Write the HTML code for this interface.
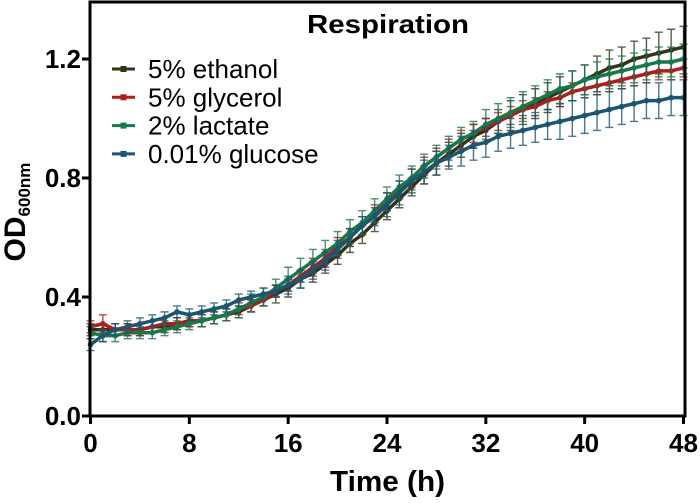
<!DOCTYPE html>
<html><head><meta charset="utf-8"><style>
body{margin:0;background:#fff;}
svg text{font-family:"Liberation Sans",Arial,sans-serif;}
</style></head><body>
<svg id="chart" width="700" height="498">
<g id="grid"></g>
<g id="series"></g>
<rect x="90" y="2" width="595" height="414" fill="none" stroke="#000" stroke-width="3"/>
<text x="307" y="33" font-size="26" font-weight="bold" textLength="162" lengthAdjust="spacingAndGlyphs">Respiration</text>
<g id="legend"></g>
<text x="330" y="491" font-size="29" font-weight="bold" textLength="115" lengthAdjust="spacingAndGlyphs">Time (h)</text>
<text transform="translate(25,212) rotate(-90)" font-size="30" font-weight="bold" text-anchor="middle">OD<tspan font-size="17" dy="5">600nm</tspan></text>
</svg>
<script>
const hours = [0,1,2,3,4,5,6,7,8,9,10,11,12,13,14,15,16,17,18,19,20,21,22,23,24,25,26,27,28,29,30,31,32,33,34,35,36,37,38,39,40,41,42,43,44,45,46,47,48];
const xTicks = [0,8,16,24,32,40,48];
const yTicks = [0.0,0.4,0.8,1.2];
const yTickLabels = ["0.0","0.4","0.8","1.2"];
const seriesNames = ["5% ethanol","5% glycerol","2% lactate","0.01% glucose"];
const seriesColors = ["#33331a","#b01c1c","#17784a","#1b5570"];
const ethanol = [.29,.29,.29,.29,.29,.30,.30,.31,.32,.32,.33,.34,.35,.37,.39,.41,.43,.46,.48,.51,.54,.58,.61,.65,.69,.73,.77,.81,.85,.88,.91,.94,.96,.99,1.01,1.03,1.05,1.07,1.09,1.11,1.13,1.15,1.17,1.18,1.20,1.21,1.22,1.23,1.24];
const glycerol = [.30,.31,.29,.29,.29,.30,.31,.31,.32,.32,.33,.34,.36,.37,.39,.42,.44,.47,.50,.53,.57,.60,.64,.68,.72,.76,.80,.84,.87,.90,.93,.95,.97,.99,1.01,1.03,1.04,1.06,1.07,1.09,1.10,1.11,1.12,1.13,1.14,1.15,1.16,1.16,1.17];
const lactate = [.28,.27,.27,.28,.28,.28,.29,.30,.31,.32,.33,.34,.36,.38,.40,.43,.46,.49,.52,.55,.58,.62,.65,.69,.73,.77,.80,.84,.87,.90,.93,.95,.98,1.00,1.02,1.04,1.06,1.08,1.10,1.11,1.13,1.14,1.15,1.16,1.17,1.18,1.19,1.19,1.20];
const glucose = [.24,.27,.29,.30,.31,.32,.33,.35,.34,.35,.36,.37,.39,.40,.41,.42,.44,.46,.49,.52,.56,.60,.64,.67,.71,.75,.79,.82,.85,.87,.89,.91,.92,.94,.95,.96,.97,.98,.99,1.00,1.01,1.02,1.03,1.04,1.05,1.06,1.06,1.07,1.07];
const ethanolSd = [.02,.02,.02,.02,.02,.02,.02,.02,.02,.02,.02,.02,.02,.02,.02,.03,.03,.03,.03,.03,.03,.03,.03,.03,.03,.03,.03,.03,.04,.04,.04,.04,.04,.04,.05,.05,.05,.05,.05,.05,.05,.06,.06,.06,.06,.06,.07,.07,.07];
const glycerolSd = [.02,.03,.02,.02,.02,.02,.02,.02,.02,.02,.02,.02,.02,.02,.02,.02,.02,.02,.03,.03,.03,.03,.03,.03,.03,.03,.03,.03,.03,.03,.03,.03,.03,.03,.03,.03,.03,.03,.03,.03,.03,.03,.03,.03,.03,.03,.03,.03,.03];
const lactateSd = [.02,.02,.02,.02,.02,.02,.02,.02,.02,.02,.02,.02,.03,.03,.03,.03,.04,.04,.04,.04,.04,.04,.04,.04,.04,.04,.04,.04,.04,.04,.04,.04,.05,.05,.05,.05,.05,.05,.05,.05,.05,.05,.05,.05,.05,.05,.05,.05,.05];
const glucoseSd = [.02,.02,.02,.02,.02,.02,.02,.02,.02,.02,.02,.02,.02,.02,.02,.02,.03,.03,.03,.03,.03,.03,.03,.03,.04,.04,.04,.04,.04,.04,.05,.05,.05,.05,.05,.05,.05,.05,.06,.06,.06,.06,.06,.06,.06,.06,.06,.06,.06];
const allValues = [ethanol, glycerol, lactate, glucose];
const allSd = [ethanolSd, glycerolSd, lactateSd, glucoseSd];

const NS = "http://www.w3.org/2000/svg";
const X0=90.5, X1=683.5, Y0=416, Y1=59;
function xs(h){return X0+(X1-X0)*h/48;}
function ys(v){return Y0+(Y1-Y0)*v/1.2;}
function mk(tag, attrs, parent){const e=document.createElementNS(NS,tag);for(const k in attrs)e.setAttribute(k,attrs[k]);parent.appendChild(e);return e;}

const grid=document.getElementById('grid');
xTicks.forEach(t=>{
  const l=mk('line',{x1:xs(t),x2:xs(t),y1:416,y2:424,stroke:'#000','stroke-width':3},grid);
  
  
  const tx=mk('text',{x:xs(t),y:452,'font-size':26,'font-weight':'bold','text-anchor':'middle'},grid);
  tx.textContent=t;
  
  
});
yTicks.forEach((t,i)=>{
  const l=mk('line',{x1:82,x2:90,y1:ys(t),y2:ys(t),stroke:'#000','stroke-width':3},grid);
  
  
  const tx=mk('text',{x:81,y:ys(t)+9,'font-size':26,'font-weight':'bold','text-anchor':'end'},grid);
  tx.textContent=yTickLabels[i];
  
  
});

const sg=document.getElementById('series');
allValues.forEach((vals,si)=>{
  const g=mk('g',{},sg);
  
  
  const c=seriesColors[si], sd=allSd[si];
  vals.forEach((v,i)=>{
    const x=xs(hours[i]);
    const eb=mk('path',{d:`M${x},${ys(v-sd[i])}V${ys(v+sd[i])}M${x-4},${ys(v+sd[i])}H${x+4}M${x-4},${ys(v-sd[i])}H${x+4}`,stroke:c,'stroke-width':1.4,fill:'none','stroke-opacity':0.8},g);
    
    
  });
  const pts=vals.map((v,i)=>xs(hours[i])+','+ys(v)).join(' ');
  const pl=mk('polyline',{points:pts,stroke:c,'stroke-width':3.5,fill:'none'},g);
  
  
  vals.forEach((v,i)=>{
    const m=mk('circle',{cx:xs(hours[i]),cy:ys(v),r:2.8,fill:c},g);
    
    
  });
});

const lg=document.getElementById('legend');
seriesNames.forEach((n,i)=>{
  const y=69+i*28.3;
  const l=mk('line',{x1:112,x2:135,y1:y,y2:y,stroke:seriesColors[i],'stroke-width':3},lg);
  
  
  const m=mk('rect',{x:120.5,y:y-3,width:6,height:6,fill:seriesColors[i]},lg);
  
  
  const t=mk('text',{x:148,y:y+9,'font-size':26},lg);
  t.textContent=n;
  
  
});
</script>
</body></html>
